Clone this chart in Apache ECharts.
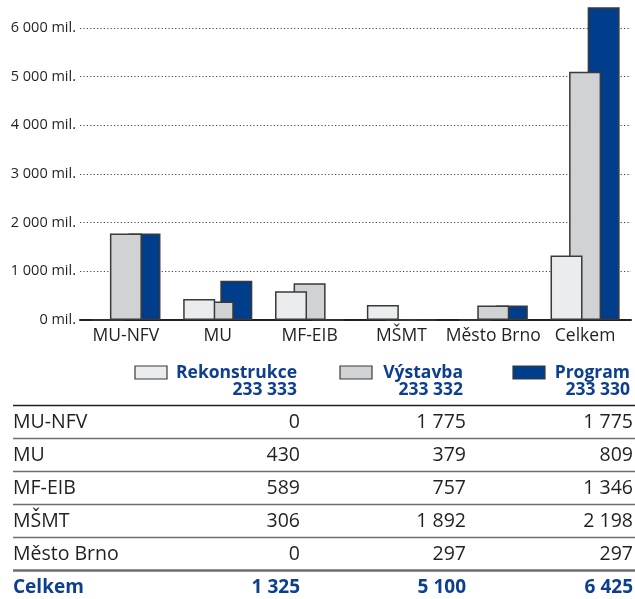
<!DOCTYPE html>
<html>
<head>
<meta charset="utf-8">
<script src="https://cdn.jsdelivr.net/npm/echarts@6/dist/echarts.min.js"></script>
<style>
html, body { margin: 0; padding: 0; background: #fff; }
#chart { width: 635px; height: 599px; }
</style>
</head>
<body>
<div id="chart"></div>
<script>
var categories = ['MU-NFV', 'MU', 'MF-EIB', 'MŠMT', 'Město Brno', 'Celkem'];
var seriesNames = ['Rekonstrukce', 'Výstavba', 'Program'];
var legendCodes = ['233 333', '233 332', '233 330'];

// bar heights as they are drawn in the chart
var barRekonstrukce = [0, 430, 589, 306, 0, 1325];
var barVystavba = [1775, 379, 757, 0, 297, 5100];
var barProgram = [1775, 809, 0, 0, 297, 6425];

// table below the chart
var rowNames = ['MU-NFV', 'MU', 'MF-EIB', 'MŠMT', 'Město Brno'];
var tabRekonstrukce = [0, 430, 589, 306, 0];
var tabVystavba = [1775, 379, 757, 1892, 297];
var tabProgram = [1775, 809, 1346, 2198, 297];
var totalName = 'Celkem';
var totals = [1325, 5100, 6425];

var colors = ['#ebecee', '#d1d2d4', '#003d8a'];
var textColor = '#231f20';
var blue = '#0d3f8f';
var font = '"Open Sans", "Noto Sans", sans-serif';

function fmt(v) {
	return String(v).replace(/\B(?=(\d{3})+(?!\d))/g, ' ');
}

var chart = echarts.init(document.getElementById('chart'));

// table drawn as graphic elements
var colRight = [300, 466, 633];
var boxLeft = [135, 340, 513];
var rowTop = 405.5, rowH = 33;
var graphic = [];

for (var s = 0; s < 3; s++) {
	graphic.push({
		type: 'rect',
		shape: { x: boxLeft[s], y: 366, width: 32, height: 13 },
		style: { fill: colors[s], stroke: '#3a3a3a', lineWidth: 1.2 }
	});
	graphic.push({
		type: 'text',
		x: colRight[s] - 3, y: 373,
		style: { text: seriesNames[s], fill: blue, font: 'bold 17.5px ' + font, textAlign: 'right', textVerticalAlign: 'middle' }
	});
	graphic.push({
		type: 'text',
		x: colRight[s] - 3, y: 390,
		style: { text: legendCodes[s], fill: blue, font: 'bold 17.5px ' + font, textAlign: 'right', textVerticalAlign: 'middle' }
	});
}

graphic.push({
	type: 'line',
	shape: { x1: 13, y1: rowTop, x2: 635, y2: rowTop },
	style: { stroke: textColor, lineWidth: 1.6 }
});

var cols = [tabRekonstrukce, tabVystavba, tabProgram];
for (var i = 0; i < rowNames.length; i++) {
	var cy = rowTop + i * rowH + 17;
	graphic.push({
		type: 'text', x: 13, y: cy,
		style: { text: rowNames[i], fill: textColor, font: '19.5px ' + font, textAlign: 'left', textVerticalAlign: 'middle' }
	});
	for (var c = 0; c < 3; c++) {
		graphic.push({
			type: 'text', x: colRight[c], y: cy,
			style: { text: fmt(cols[c][i]), fill: textColor, font: '19.5px ' + font, textAlign: 'right', textVerticalAlign: 'middle' }
		});
	}
	var ly = rowTop + (i + 1) * rowH;
	graphic.push({
		type: 'line',
		shape: { x1: 13, y1: ly, x2: 635, y2: ly },
		style: { stroke: '#6e6e6e', lineWidth: i == rowNames.length - 1 ? 2.4 : 1.6 }
	});
}

var ty = rowTop + rowNames.length * rowH + 17;
graphic.push({
	type: 'text', x: 13, y: ty,
	style: { text: totalName, fill: blue, font: 'bold 19px ' + font, textAlign: 'left', textVerticalAlign: 'middle' }
});
for (var c = 0; c < 3; c++) {
	graphic.push({
		type: 'text', x: colRight[c], y: ty,
		style: { text: fmt(totals[c]), fill: blue, font: 'bold 19px ' + font, textAlign: 'right', textVerticalAlign: 'middle' }
	});
}

function barSeries(name, data, color, z) {
	return {
		name: name,
		type: 'bar',
		data: data,
		z: z,
		clip: false,
		barWidth: 32,
		barGap: '-42%',
		itemStyle: { color: color, borderColor: '#3a3a3a', borderWidth: 1.5 }
	};
}

var option = {
	animation: false,
	backgroundColor: '#fff',
	textStyle: { fontFamily: font },
	grid: { left: 80, right: 4, top: 28, bottom: 279 },
	xAxis: {
		type: 'category',
		data: categories,
		axisLine: { lineStyle: { color: textColor, width: 2 } },
		axisTick: { show: false },
		axisLabel: { color: textColor, fontSize: 17.5, margin: 7, interval: 0 }
	},
	yAxis: {
		type: 'value',
		min: 0,
		max: 6000,
		interval: 1000,
		axisLine: { show: false },
		axisTick: { show: false },
		axisLabel: {
			color: textColor, fontSize: 14.5, margin: 4,
			formatter: function (v) { return fmt(v) + ' mil.'; }
		},
		splitLine: { lineStyle: { color: '#444', width: 1, type: [1.2, 2.2] } }
	},
	series: [
		barSeries(seriesNames[0], barRekonstrukce, colors[0], 5),
		barSeries(seriesNames[1], barVystavba, colors[1], 4),
		barSeries(seriesNames[2], barProgram, colors[2], 3)
	],
	graphic: graphic
};

chart.setOption(option);
</script>
</body>
</html>
